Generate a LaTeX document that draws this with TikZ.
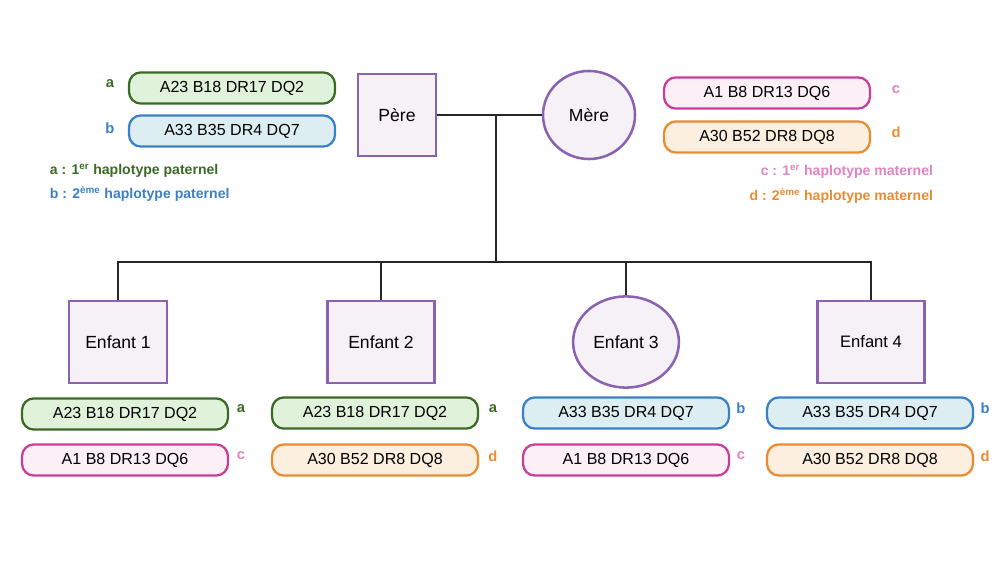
\documentclass[tikz,border=0pt]{standalone}
\usepackage{fontspec}
\setmainfont{Liberation Sans}
\usepackage{tikz}
\usetikzlibrary{positioning, shapes.geometric}

\definecolor{violet}{HTML}{8A62B0}
\definecolor{violetfond}{HTML}{F6F0F7}
\definecolor{vert}{HTML}{3B6A26}
\definecolor{vertfond}{HTML}{E0F3DA}
\definecolor{bleu}{HTML}{3A80C6}
\definecolor{bleufond}{HTML}{DDEEF3}
\definecolor{rose}{HTML}{C73D98}
\definecolor{rosefond}{HTML}{FCEFF6}
\definecolor{roseclair}{HTML}{E283C2}
\definecolor{orange}{HTML}{EA8B32}
\definecolor{orangefond}{HTML}{FCEFDF}

\tikzset{
  homme/.style={draw=violet, fill=violetfond, line width=1.8pt, rectangle,
    minimum height=2.05cm, font=\fontsize{12.5}{14}\selectfont},
  femme/.style={draw=violet, fill=violetfond, line width=1.8pt, ellipse,
    font=\fontsize{12.5}{14}\selectfont},
  haplo/.style={draw, line width=1.6pt, rounded corners=0.3cm,
    minimum width=5.15cm, minimum height=0.78cm, inner sep=0pt,
    font=\fontsize{11.4}{13}\selectfont},
  lettre/.style={font=\bfseries\fontsize{10.5}{12}\selectfont},
  legende/.style={font=\bfseries\fontsize{10}{12}\selectfont},
  lien/.style={line width=1.4pt, black!85}
}

\begin{document}
\begin{tikzpicture}[x=0.025cm, y=-0.025cm]
	\useasboundingbox (0,0) rectangle (1000,563);

	% parents
	\node[homme, minimum width=1.95cm] (pere) at (397,115) {Père};
	\node[femme, minimum width=2.3cm, minimum height=2.2cm] (mere) at (589,115) {Mère};

	% haplotypes du pere
	\node[haplo, draw=vert, fill=vertfond] (pa) at (232,88) {A23 B18 DR17 DQ2};
	\node[haplo, draw=bleu, fill=bleufond] (pb) at (232,131) {A33 B35 DR4 DQ7};
	\node[lettre, text=vert] (la) at (110,84) {a};
	\node[lettre, text=bleu] (lb) at (110,128) {b};
	\node[legende, text=vert, anchor=west] (lega) at (45,171) {a : 1\textsuperscript{er} haplotype paternel};
	\node[legende, text=bleu, anchor=west] (legb) at (45,194) {b : 2\textsuperscript{ème} haplotype paternel};

	% haplotypes de la mere
	\node[haplo, draw=rose, fill=rosefond] (mc) at (767,93) {A1 B8 DR13 DQ6};
	\node[haplo, draw=orange, fill=orangefond] (md) at (767,137) {A30 B52 DR8 DQ8};
	\node[lettre, text=roseclair] (lc) at (896,90) {c};
	\node[lettre, text=orange] (ld) at (896,132) {d};
	\node[legende, text=roseclair, anchor=east] (legc) at (938,172) {c : 1\textsuperscript{er} haplotype maternel};
	\node[legende, text=orange, anchor=east] (legd) at (938,196) {d : 2\textsuperscript{ème} haplotype maternel};

	% enfants
	\node[homme, minimum width=2.45cm] (e1) at (118,342) {Enfant 1};
	\node[homme, minimum width=2.68cm] (e2) at (381,342) {Enfant 2};
	\node[femme, minimum width=2.58cm, minimum height=2.28cm] (e3) at (626,342) {Enfant 3};
	\node[homme, minimum width=2.68cm, font=\fontsize{11.8}{14}\selectfont] (e4) at (871,342) {Enfant 4};

	% haplotypes des enfants
	\node[haplo, draw=vert, fill=vertfond] (e1a) at (125,414) {A23 B18 DR17 DQ2};
	\node[haplo, draw=rose, fill=rosefond] (e1c) at (125,460) {A1 B8 DR13 DQ6};
	\node[lettre, text=vert] (l1a) at (241,409) {a};
	\node[lettre, text=roseclair] (l1c) at (241,456) {c};

	\node[haplo, draw=vert, fill=vertfond] (e2a) at (375,413) {A23 B18 DR17 DQ2};
	\node[haplo, draw=orange, fill=orangefond] (e2d) at (375,460) {A30 B52 DR8 DQ8};
	\node[lettre, text=vert] (l2a) at (493,409) {a};
	\node[lettre, text=orange] (l2d) at (493,456) {d};

	\node[haplo, draw=bleu, fill=bleufond] (e3b) at (626,413) {A33 B35 DR4 DQ7};
	\node[haplo, draw=rose, fill=rosefond] (e3c) at (626,460) {A1 B8 DR13 DQ6};
	\node[lettre, text=bleu] (l3b) at (741,408) {b};
	\node[lettre, text=roseclair] (l3c) at (741,456) {c};

	\node[haplo, draw=bleu, fill=bleufond] (e4b) at (870,413) {A33 B35 DR4 DQ7};
	\node[haplo, draw=orange, fill=orangefond] (e4d) at (870,460) {A30 B52 DR8 DQ8};
	\node[lettre, text=bleu] (l4b) at (985,408) {b};
	\node[lettre, text=orange] (l4d) at (985,456) {d};

	% liens
	\coordinate (union) at (496,115);
	\coordinate (fratrie) at (496,262);
	\draw[lien] (pere) -- (mere);
	\draw[lien] (union) -- (fratrie);
	\draw[lien] (e1.north) |- (fratrie) -| (e4.north);
	\draw[lien] (e2.north) -- (e2.north |- fratrie);
	\draw[lien] (e3.north) -- (e3.north |- fratrie);

\end{tikzpicture}
\end{document}
